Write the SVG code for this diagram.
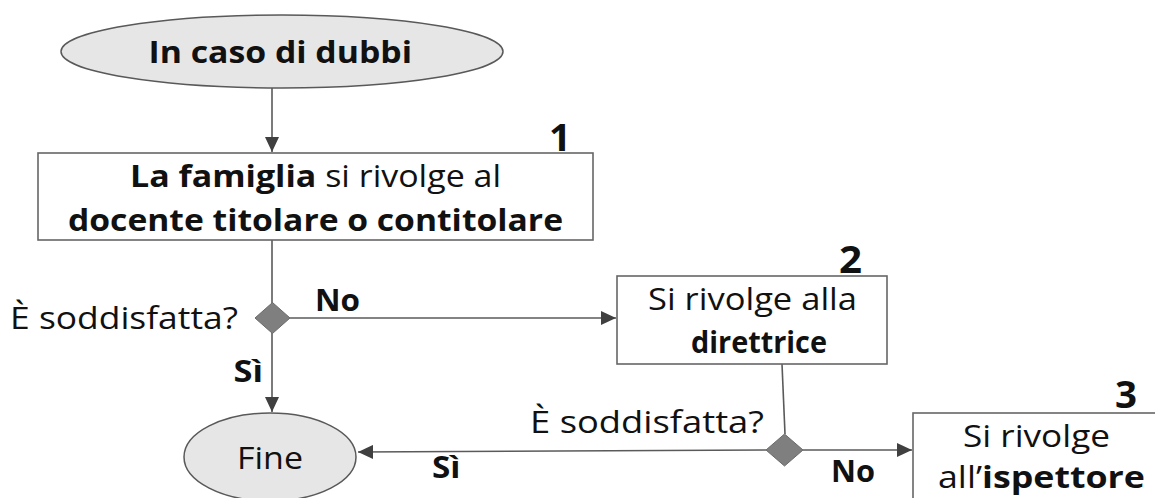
<svg xmlns="http://www.w3.org/2000/svg" width="1155" height="498" viewBox="0 0 1155 498">
<style>
.t{font-family:"Open Sans","Noto Sans","Liberation Sans",sans-serif;font-size:31px;fill:#111;}
.b{font-weight:bold;}
.n{font-family:"Open Sans","Noto Sans","Liberation Sans",sans-serif;font-size:38px;font-weight:bold;fill:#111;}
.box{fill:#fff;stroke:#666;stroke-width:1.6;}
.oval{fill:#e6e6e6;stroke:#595959;stroke-width:1.5;}
.dia{fill:#7f7f7f;stroke:#6a6a6a;stroke-width:1;}
.c{fill:none;stroke:#5a5a5a;stroke-width:1.6;}
</style>
<defs>
<marker id="ah" markerUnits="userSpaceOnUse" markerWidth="15" markerHeight="14" refX="15" refY="7" orient="auto">
<path d="M0,0 L15,7 L0,14 Z" fill="#404040"/>
</marker>
</defs>
<rect width="1155" height="498" fill="#fff"/>
<g id="connectors">
<line class="c" x1="272" y1="88" x2="272" y2="152" marker-end="url(#ah)"/>
<line class="c" x1="272" y1="240" x2="272" y2="303"/>
<line class="c" x1="290" y1="318" x2="616" y2="318" marker-end="url(#ah)"/>
<line class="c" x1="272" y1="333" x2="272" y2="412" marker-end="url(#ah)"/>
<line class="c" x1="782" y1="364" x2="785" y2="434"/>
<line class="c" x1="766" y1="450" x2="358" y2="452" marker-end="url(#ah)"/>
<line class="c" x1="803" y1="450" x2="912" y2="450" marker-end="url(#ah)"/>
</g>
<g id="start">
<ellipse class="oval" cx="282" cy="51.5" rx="221" ry="36.5"/>
<text class="t b" x="148.5" y="63" textLength="263.5" lengthAdjust="spacingAndGlyphs">In caso di dubbi</text>
</g>
<g id="step1">
<rect class="box" x="38" y="153" width="555" height="87"/>
<text class="n" x="549" y="151" textLength="22" lengthAdjust="spacingAndGlyphs">1</text>
<text class="t" x="130" y="187" textLength="371" lengthAdjust="spacingAndGlyphs"><tspan class="b">La famiglia</tspan> si rivolge al</text>
<text class="t b" x="68" y="231" textLength="495" lengthAdjust="spacingAndGlyphs">docente titolare o contitolare</text>
</g>
<g id="decision1">
<path class="dia" d="M272.5,302.5 L290,318 L272.5,333.5 L255,318 Z"/>
<text class="t" x="10" y="329" textLength="228" lengthAdjust="spacingAndGlyphs">È soddisfatta?</text>
<text class="t b" x="315" y="311" textLength="45" lengthAdjust="spacingAndGlyphs">No</text>
<text class="t b" x="233.5" y="382" textLength="29.5" lengthAdjust="spacingAndGlyphs">Sì</text>
</g>
<g id="step2">
<rect class="box" x="617" y="276" width="270" height="88"/>
<text class="n" x="839" y="273" textLength="23" lengthAdjust="spacingAndGlyphs">2</text>
<text class="t" x="648" y="310" textLength="209" lengthAdjust="spacingAndGlyphs">Si rivolge alla</text>
<text class="t b" x="691" y="353" textLength="136" lengthAdjust="spacingAndGlyphs">direttrice</text>
</g>
<g id="decision2">
<path class="dia" d="M784.5,434 L803,450 L784.5,466 L766,450 Z"/>
<text class="t" x="530" y="433" textLength="234" lengthAdjust="spacingAndGlyphs">È soddisfatta?</text>
<text class="t b" x="831" y="482" textLength="44" lengthAdjust="spacingAndGlyphs">No</text>
<text class="t b" x="432" y="478" textLength="28.5" lengthAdjust="spacingAndGlyphs">Sì</text>
</g>
<g id="end">
<ellipse class="oval" cx="270" cy="457" rx="86" ry="44"/>
<text class="t" x="237" y="469" textLength="66" lengthAdjust="spacingAndGlyphs">Fine</text>
</g>
<g id="step3">
<rect class="box" x="913" y="413" width="262" height="100"/>
<text class="n" x="1115" y="408" textLength="22" lengthAdjust="spacingAndGlyphs">3</text>
<text class="t" x="963" y="447" textLength="147" lengthAdjust="spacingAndGlyphs">Si rivolge</text>
<text class="t" x="938" y="488" textLength="207" lengthAdjust="spacingAndGlyphs">all’<tspan class="b">ispettore</tspan></text>
</g>
</svg>
